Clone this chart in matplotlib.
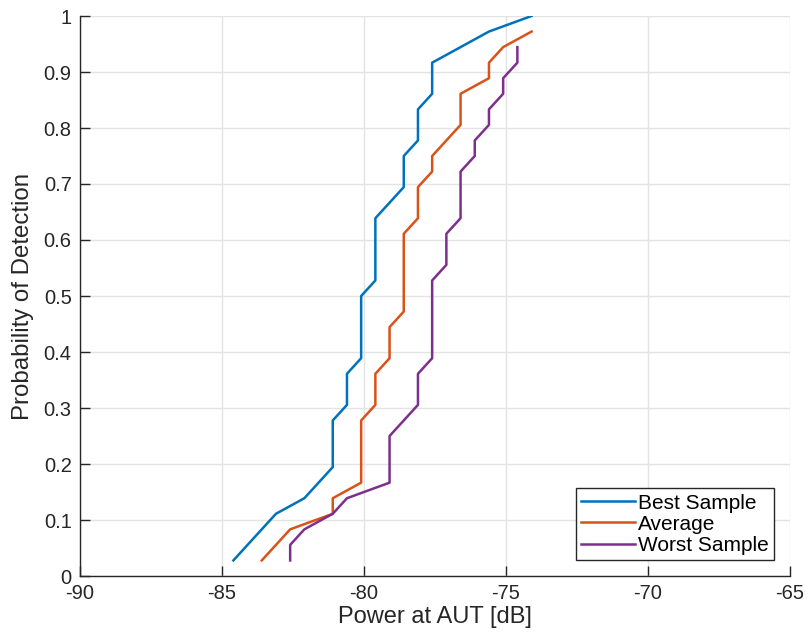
import numpy as np
import matplotlib
matplotlib.use('Agg')
import matplotlib.pyplot as plt

plt.rcParams['font.family'] = ['Liberation Sans', 'DejaVu Sans']
plt.rcParams['axes.unicode_minus'] = False

# Empirical detection curves (probability in units of 1/36)
best_x = [-84.6, -83.1, -82.1, -81.1, -81.1, -80.6, -80.6, -80.1, -80.1, -79.6,
          -79.6, -78.6, -78.6, -78.1, -78.1, -77.6, -77.6, -75.6, -74.1]
best_n = [1, 4, 5, 7, 10, 11, 13, 14, 18, 19, 23, 25, 27, 28, 30, 31, 33, 35, 36]

avg_x = [-83.6, -82.6, -81.1, -81.1, -80.1, -80.1, -79.6, -79.6, -79.1, -79.1, -78.6,
         -78.6, -78.1, -78.1, -77.6, -77.6, -76.6, -76.6, -75.6, -75.6, -75.1, -74.1]
avg_n = [1, 3, 4, 5, 6, 10, 11, 13, 14, 16, 17, 22, 23, 25, 26, 27, 29, 31, 32, 33, 34, 35]

worst_x = [-82.6, -82.6, -82.1, -81.1, -80.6, -79.1, -79.1, -78.1, -78.1, -77.6, -77.6, -77.1,
           -77.1, -76.6, -76.6, -76.1, -76.1, -75.6, -75.6, -75.1, -75.1, -74.6, -74.6]
worst_n = [1, 2, 3, 4, 5, 6, 9, 11, 13, 14, 19, 20, 22, 23, 26, 27, 28, 29, 30, 31, 32, 33, 34]

n_trials = 36

fig = plt.figure(figsize=(8.08, 6.37), dpi=100)
ax = fig.add_axes([80 / 808, 1 - 576 / 637, 710 / 808, 560 / 637])

ax.plot(best_x, np.array(best_n) / n_trials, color='#0072BD', lw=1.8, label='Best Sample')
ax.plot(avg_x, np.array(avg_n) / n_trials, color='#D95319', lw=1.8, label='Average')
ax.plot(worst_x, np.array(worst_n) / n_trials, color='#7E2F8E', lw=1.8, label='Worst Sample')

ax.set_xlim(-90, -65)
ax.set_ylim(0, 1)
ax.set_xticks(np.arange(-90, -64, 5))
ax.set_yticks(np.arange(0, 1.01, 0.1))
ax.set_yticklabels(['0', '0.1', '0.2', '0.3', '0.4', '0.5', '0.6', '0.7', '0.8', '0.9', '1'])

ax.grid(True, color='#e3e3e3', lw=1)
ax.set_axisbelow(True)
for s in ['top', 'right']:
    ax.spines[s].set_visible(False)
for s in ['left', 'bottom']:
    ax.spines[s].set_color('#262626')
    ax.spines[s].set_linewidth(1.0)
ax.tick_params(direction='in', length=7, width=1, color='#262626',
               labelsize=14.5, labelcolor='#262626', pad=6)

ax.set_xlabel('Power at AUT [dB]', fontsize=17, color='#262626', labelpad=2)
ax.set_ylabel('Probability of Detection', fontsize=17.3, color='#262626', labelpad=7)

leg = ax.legend(loc='lower right', bbox_to_anchor=(774 / 808, 1 - 560 / 637),
                bbox_transform=fig.transFigure, borderaxespad=0, fancybox=False,
                edgecolor='#262626', framealpha=1, fontsize=15, handlelength=2.6,
                handletextpad=0.15, labelspacing=0.1, borderpad=0.25)
leg.get_frame().set_linewidth(1.0)

fig.savefig('out.png', dpi=100)
